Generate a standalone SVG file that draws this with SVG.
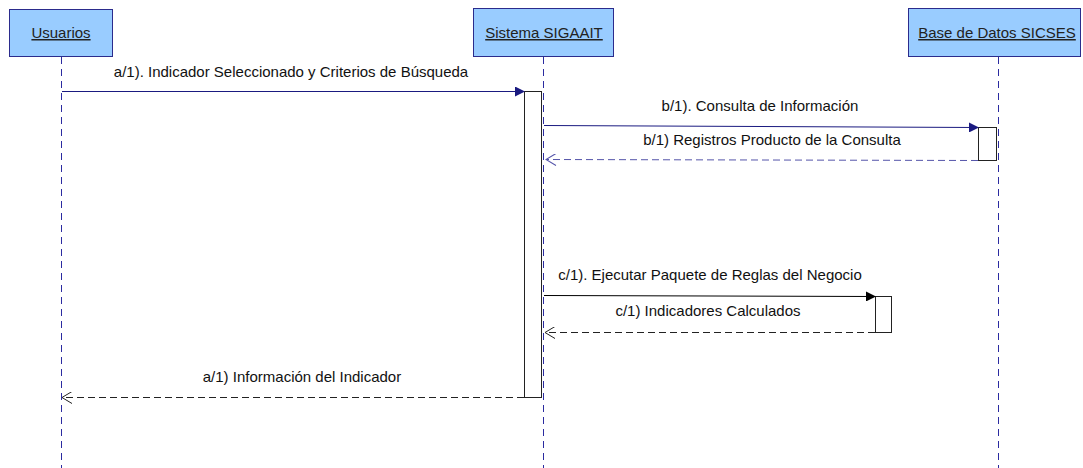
<svg xmlns="http://www.w3.org/2000/svg" width="1083" height="468" viewBox="0 0 1083 468">
<defs>
<style>
.box{fill:#99CCFF;stroke:#2B2B8C;stroke-width:1}
.name{font-family:"Liberation Sans",Arial,sans-serif;font-size:15px;fill:#222;text-anchor:middle;text-decoration:underline}
.life{stroke:#2B2BA0;stroke-width:1;stroke-dasharray:7,5;fill:none}
.act{fill:#fff;stroke:#222;stroke-width:1}
.lbl{font-family:"Liberation Sans",Arial,sans-serif;font-size:15px;fill:#111;text-anchor:middle}
.msgb{stroke:#1A1A80;stroke-width:1;fill:none}
.msgk{stroke:#000;stroke-width:1;fill:none}
.retb{stroke:#5555AA;stroke-width:1;stroke-dasharray:7,4;fill:none}
.retk{stroke:#222;stroke-width:1;stroke-dasharray:7,4;fill:none}
</style>
<marker id="fb" markerWidth="10" markerHeight="10" refX="9" refY="5" orient="auto" markerUnits="userSpaceOnUse"><path d="M0,0 L10,5 L0,10 z" fill="#1A1A80"/></marker>
<marker id="fk" markerWidth="10" markerHeight="10" refX="9" refY="5" orient="auto" markerUnits="userSpaceOnUse"><path d="M0,0 L10,5 L0,10 z" fill="#000"/></marker>
<marker id="ob" markerWidth="12" markerHeight="12" refX="11" refY="6" orient="auto" markerUnits="userSpaceOnUse"><path d="M1,0 L11,6 L1,12" fill="none" stroke="#5555AA"/></marker>
<marker id="ok" markerWidth="12" markerHeight="12" refX="11" refY="6" orient="auto" markerUnits="userSpaceOnUse"><path d="M1,0 L11,6 L1,12" fill="none" stroke="#222"/></marker>
</defs>
<rect width="1083" height="468" fill="#fff"/>
<g id="usuarios">
<rect class="box" x="9.5" y="9.5" width="103" height="47"/>
<text class="name" x="61" y="38">Usuarios</text>
<line class="life" x1="61.5" y1="57" x2="61.5" y2="468"/>
</g>
<g id="sistema">
<rect class="box" x="473.5" y="8.5" width="140" height="48"/>
<text class="name" x="544" y="38">Sistema SIGAAIT</text>
<line class="life" x1="543.5" y1="57" x2="543.5" y2="468"/>
<rect class="act" x="524.5" y="91.5" width="17" height="306"/>
</g>
<g id="basedatos">
<rect class="box" x="908.5" y="8.5" width="172" height="48"/>
<text class="name" x="997" y="38">Base de Datos SICSES</text>
<line class="life" x1="998.5" y1="57" x2="998.5" y2="468"/>
<rect class="act" x="978.5" y="127.5" width="18" height="33"/>
<rect class="act" x="875.5" y="296.5" width="16" height="36"/>
</g>
<g id="connectors">
<line class="msgb" x1="62" y1="91.5" x2="524" y2="91.5" marker-end="url(#fb)"/>
<text class="lbl" x="291" y="77">a/1). Indicador Seleccionado y Criterios de Búsqueda</text>
<line class="msgb" x1="544" y1="125.5" x2="978" y2="127.5" marker-end="url(#fb)"/>
<text class="lbl" x="760" y="111">b/1). Consulta de Información</text>
<line class="retb" x1="978" y1="160.5" x2="546" y2="159.5" marker-end="url(#ob)"/>
<text class="lbl" x="772" y="145">b/1) Registros Producto de la Consulta</text>
<line class="msgk" x1="544" y1="295.5" x2="875" y2="296.5" marker-end="url(#fk)"/>
<text class="lbl" x="710" y="280">c/1). Ejecutar Paquete de Reglas del Negocio</text>
<line class="retk" x1="875" y1="332.5" x2="545" y2="332.5" marker-end="url(#ok)"/>
<text class="lbl" x="708" y="316">c/1) Indicadores Calculados</text>
<line class="retk" x1="524" y1="397.5" x2="62" y2="397.5" marker-end="url(#ok)"/>
<text class="lbl" x="302" y="382">a/1) Información del Indicador</text>
</g>
</svg>
